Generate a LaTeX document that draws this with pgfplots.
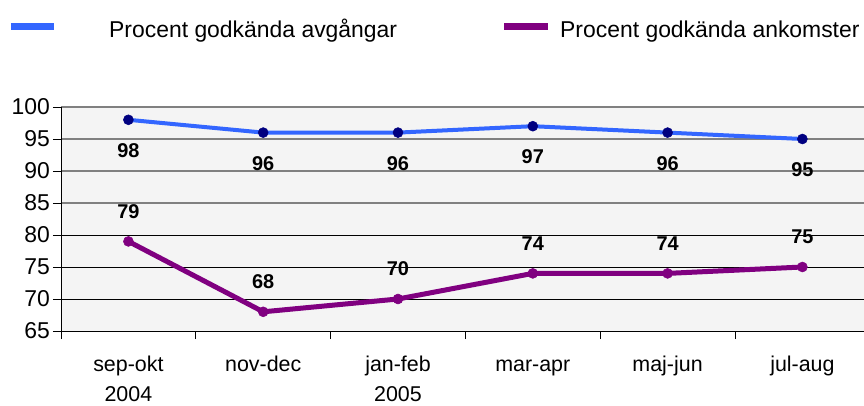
\documentclass[border=0pt]{standalone}
\usepackage{fontspec}
\setmainfont{Liberation Sans}
\usepackage{pgfplots}
\pgfplotsset{compat=1.18}
\definecolor{bl}{HTML}{3366FF}
\definecolor{nv}{HTML}{000080}
\definecolor{pu}{HTML}{800080}
\definecolor{bg}{HTML}{F4F4F4}
\definecolor{gr}{HTML}{808080}
\newcommand{\fl}{\vphantom{kd}}
\begin{document}
\begin{tikzpicture}
\begin{axis}[
 name=ax,
 scale only axis, width=803bp, height=224bp,
 xmin=-0.5, xmax=5.457, ymin=65, ymax=100,
 axis background/.style={fill=bg},
 axis x line*=bottom, axis y line*=left,
 axis line style={black, line width=0.8bp, -},
 /pgf/number format/assume math mode=true,
 tick align=outside,
 major tick length=8bp, minor tick length=8bp,
 xtick={0,...,5},
 xticklabels={{\fl sep-okt\\2004},{\fl nov-dec\\\vphantom{2004}},{\fl jan-feb\\2005},{\fl mar-apr\\\vphantom{2004}},{\fl maj-jun\\\vphantom{2004}},{\fl jul-aug\\\vphantom{2004}}},
 xticklabel style={align=center, font=\fontsize{21.5}{30}\selectfont, inner sep=0pt, anchor=north, yshift=-17bp},
 major x tick style={draw=none},
 minor xtick={-0.5,0.5,...,4.5},
 minor x tick style={black, line width=0.8bp},
 ytick={85,90,95,100},
 extra y ticks={65,70,75,80},
 extra y tick style={grid=major, major grid style={black, line width=0.8bp}},
 ymajorgrids,
 major grid style={gr, line width=1.5bp},
 y tick style={black, line width=0.8bp},
 yticklabel style={font=\fontsize{23}{26}\selectfont, inner sep=0pt, anchor=east, xshift=-3bp},
 clip=false,
]
\addplot[bl, line width=4bp, mark=*, mark size=5bp, mark options={draw=nv, fill=nv, line width=0.5bp},
 nodes near coords,
 every node near coord/.append style={font=\fontsize{20}{24}\selectfont\bfseries, anchor=north, inner sep=0pt, yshift=-23.5bp, text=black}]
 coordinates {(0,98) (1,96) (2,96) (3,97) (4,96) (5,95)};
\addplot[pu, line width=5bp, mark=*, mark size=5bp, mark options={draw=pu, fill=pu, line width=0.5bp},
 nodes near coords,
 every node near coord/.append style={font=\fontsize{20}{24}\selectfont\bfseries, anchor=south, inner sep=0pt, yshift=22.7bp, text=black}]
 coordinates {(0,79) (1,68) (2,70) (3,74) (4,74) (5,75)};
\end{axis}
\draw[bl, line width=7bp] ([shift={(-50bp,304.7bp)}]ax.south west) -- ++(43bp,0);
\node[anchor=base west, inner sep=0pt, font=\fontsize{23}{26}\selectfont] at ([shift={(48bp,293.7bp)}]ax.south west) {Procent godkända avgångar};
\draw[pu, line width=7bp] ([shift={(443bp,304.7bp)}]ax.south west) -- ++(44bp,0);
\node[anchor=base west, inner sep=0pt, font=\fontsize{23}{26}\selectfont] at ([shift={(499bp,293.7bp)}]ax.south west) {Procent godkända ankomster};
\pgfresetboundingbox
\path[use as bounding box] ([shift={(-61bp,-75bp)}]ax.south west) rectangle ++(864bp,406bp);
\end{tikzpicture}
\end{document}
